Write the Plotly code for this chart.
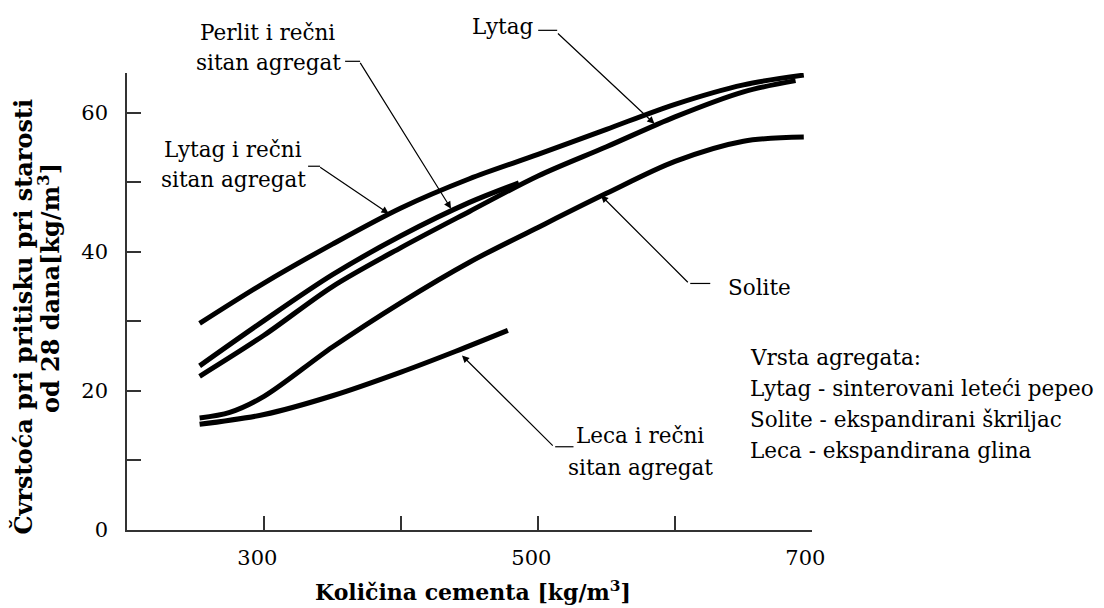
import plotly.graph_objects as go

# ---------------- data ----------------
x_lytag_recni = [253, 300, 350, 400, 450, 500, 550, 600, 650, 694]
y_lytag_recni = [29.7, 35.5, 41.1, 46.3, 50.5, 54.0, 57.6, 61.2, 64.0, 65.4]

x_perlit = [253, 300, 350, 400, 450, 486]
y_perlit = [23.6, 30.1, 36.7, 42.3, 47.1, 49.9]

x_lytag = [253, 300, 350, 400, 450, 500, 550, 600, 650, 688]
y_lytag = [22.1, 28.0, 35.0, 40.6, 45.8, 50.9, 55.1, 59.4, 63.0, 64.6]

x_solite = [253, 275, 300, 350, 400, 450, 500, 550, 600, 650, 694]
y_solite = [16.1, 16.9, 19.2, 26.3, 32.7, 38.5, 43.5, 48.4, 53.0, 55.9, 56.5]

x_leca = [253, 300, 350, 400, 440, 478]
y_leca = [15.2, 16.6, 19.3, 22.7, 25.7, 28.7]

x_tickvals = [300, 500, 700]
x_ticktext = ["300\u00a0\u00a0", "500\u00a0\u00a0", "700\u00a0\u00a0"]
x_minor = [400, 600]
y_tickvals = [0, 20, 40, 60]
y_ticktext = ["0", "20", "40", "60"]
y_minor = [10, 30, 50]

# arrow tips on the curves (data units) for the labels
tip_lytag_recni = (391, 45.5)
tip_perlit = (436.5, 46.2)
tip_lytag = (585, 58.4)
tip_solite = (546, 48.1)
tip_leca = (444.5, 25.1)

legend_lines = [
    "Vrsta agregata:",
    "Lytag - sinterovani leteći pepeo",
    "Solite - ekspandirani škriljac",
    "Leca - ekspandirana glina",
]

# ---------------- layout geometry (screen pixels) ----------------
OFF = 8                      # default page margin of the html body
W, H = 1104 - OFF, 608 - OFF
PL, PR, PT, PB = 127, 811.7, 72.7, 530   # plot area on screen

def px(x):
    return (x - PL) / (PR - PL)

def py(y):
    return (PB - y) / (PB - PT)

FONT = "DejaVu Serif"
TXT = 21.5
TICK = 21

fig = go.Figure()
for xs, ys in [(x_lytag_recni, y_lytag_recni), (x_perlit, y_perlit), (x_lytag, y_lytag),
               (x_solite, y_solite), (x_leca, y_leca)]:
    fig.add_trace(go.Scatter(x=xs, y=ys, mode="lines",
                             line=dict(color="black", width=5, shape="spline", smoothing=0.9),
                             showlegend=False, hoverinfo="skip"))

annotations = []
shapes = []

def text(s, cx, baseline, anchor="center", size=TXT):
    annotations.append(dict(text=s, x=px(cx), y=py(baseline - 0.35 * size), xref="paper", yref="paper",
                            xanchor=anchor, yanchor="middle", showarrow=False,
                            font=dict(family=FONT, size=size, color="black")))

def leader(tip, ax, ay, h0, h1, hy):
    annotations.append(dict(text="", x=tip[0], y=tip[1], xref="x", yref="y", ax=ax, ay=ay,
                            showarrow=True, arrowhead=2, arrowsize=1.2, arrowwidth=1.2,
                            arrowcolor="black", standoff=0, startstandoff=0))
    shapes.append(dict(type="line", xref="paper", yref="paper", x0=px(h0), x1=px(h1),
                       y0=py(hy), y1=py(hy), line=dict(color="black", width=1.2)))

# labels
text("Perlit i rečni", 267.5, 39.5)
text("sitan agregat", 268, 70)
leader(tip_perlit, -91.7, -147.3, 345, 360, 61)

text("Lytag", 503, 33.5)
leader(tip_lytag, -98, -91.7, 538, 557, 30)

text("Lytag i rečni", 232.5, 156.5)
text("sitan agregat", 233.5, 186.5)
leader(tip_lytag_recni, -70, -47.3, 308, 320, 166)

text("Solite", 759, 295)
leader(tip_solite, 88.3, 88.3, 690, 710, 283.3)

text("Leca i rečni", 640, 443)
text("sitan agregat", 640.5, 475)
leader(tip_leca, 92.3, 91.7, 555, 573.3, 446.7)

for i, s in enumerate(legend_lines):
    text(s, 748, 365 + i * 31, anchor="left")

# axis titles
annotations.append(dict(text="<b>Količina cementa [kg/m<sup>3</sup>]</b>", x=px(472.5), y=py(591),
                        xref="paper", yref="paper", xanchor="center", yanchor="middle",
                        showarrow=False, font=dict(family=FONT, size=22, color="black")))
annotations.append(dict(text="<b>Čvrstoća pri pritisku pri starosti</b>", x=px(23.5), y=py(316),
                        xref="paper", yref="paper", xanchor="center", yanchor="middle", textangle=-90,
                        showarrow=False, font=dict(family=FONT, size=24, color="black")))
annotations.append(dict(text="<b>od 28 dana[kg/m<sup>3</sup>]</b>", x=px(49), y=py(288),
                        xref="paper", yref="paper", xanchor="center", yanchor="middle", textangle=-90,
                        showarrow=False, font=dict(family=FONT, size=24, color="black")))

tick_style = dict(ticks="inside", ticklen=14, tickwidth=1.5, tickcolor="#333")
axis_common = dict(showgrid=False, zeroline=False, showline=True, linecolor="#333", linewidth=1.5,
                   tickfont=dict(family=FONT, size=TICK, color="black"), fixedrange=True, **tick_style)

fig.update_layout(
    width=W, height=H,
    margin=dict(l=PL - OFF, r=W - (PR - OFF), t=PT - OFF, b=H - (PB - OFF), autoexpand=False),
    paper_bgcolor="white", plot_bgcolor="white",
    xaxis=dict(range=[200, 700], tickmode="array", tickvals=x_tickvals, ticktext=x_ticktext,
               minor=dict(tickmode="array", tickvals=x_minor, **tick_style),
               ticklabelstandoff=8, **axis_common),
    yaxis=dict(range=[0, 65.7], tickmode="array", tickvals=y_tickvals, ticktext=y_ticktext,
               minor=dict(tickmode="array", tickvals=y_minor, **tick_style),
               ticklabelstandoff=13, **axis_common),
    annotations=annotations, shapes=shapes,
    showlegend=False,
)

fig.write_html("out.html", config={"displayModeBar": False})
